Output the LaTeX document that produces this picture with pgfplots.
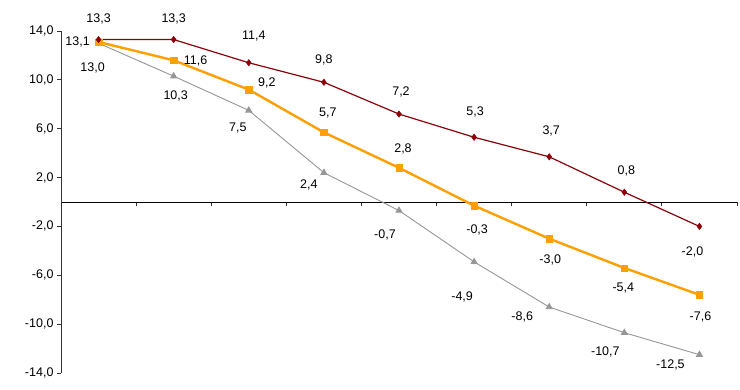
\documentclass[border=0pt]{standalone}
\usepackage{fontspec}
\setmainfont{Liberation Sans}
\usepackage{pgfplots}
\usepackage{pgfplotstable}
\pgfplotsset{compat=1.18}
\definecolor{cred}{RGB}{140,0,10}
\definecolor{corange}{RGB}{255,160,0}
\definecolor{cgray}{RGB}{150,150,150}

\pgfplotstableread{
x y lab dx dy
0 13.3 13,3 0 21
1 13.3 13,3 0 21
2 11.4 11,4 5 27
3 9.8 9,8 0 22
4 7.2 7,2 2 22
5 5.3 5,3 1 25
6 3.7 3,7 2 26
7 0.8 0,8 2 21
8 -2.0 -2,0 -7 -26
}\redtab
\pgfplotstableread{
x y lab dx dy
0 13.1 13,1 -21 0
1 11.6 11,6 22 -1
2 9.2 9,2 18 7
3 5.7 5,7 4 19
4 2.8 2,8 4 19
5 -0.3 -0,3 3 -24
6 -3.0 -3,0 1 -21
7 -5.4 -5,4 -1 -20
8 -7.6 -7,6 1 -22
}\orangetab
\pgfplotstableread{
x y lab dx dy
0 13.0 13,0 -6 -25
1 10.3 10,3 2 -20
2 7.5 7,5 -11 -18
3 2.4 2,4 -15 -12
4 -0.7 -0,7 -14 -24
5 -4.9 -4,9 -12 -35
6 -8.6 -8,6 -27 -10
7 -10.7 -10,7 -19 -19
8 -12.5 -12,5 -29 -10
}\graytab

\begin{document}
\begin{tikzpicture}
\begin{axis}[
  name=ax,
  scale only axis,
  width=676pt, height=342pt,
  xmin=-0.5, xmax=8.5,
  ymin=-14, ymax=14,
  axis x line=middle,
  axis y line=left,
  x axis line style={-, black, line width=0.9pt},
  y axis line style={-, black!80, line width=0.9pt},
  xtick={-0.5,0.5,...,8.5},
  xticklabels={},
  ytick={-14,-10,-6,-2,2,6,10,14},
  tick align=outside,
  major tick length=4pt,
  tick style={black!80, line width=0.8pt},
  yticklabel style={font=\fontsize{12.5}{14}\selectfont, text=black},
  /pgf/number format/.cd, fixed, fixed zerofill, precision=1, use comma, assume math mode=true,
  /pgfplots/.cd,
  clip=false,
  point meta=explicit symbolic,
  nodes near coords,
  visualization depends on={\thisrow{dx} \as \dx},
  visualization depends on={\thisrow{dy} \as \dy},
  nodes near coords style={anchor=center, xshift=\dx pt, yshift=\dy pt, font=\fontsize{12.5}{14}\selectfont, text=black, inner sep=0pt},
]
\addplot[color=cgray, line width=0.9pt, mark=triangle*, mark size=3.4pt, mark options={fill=cgray, draw=cgray}]
  table[x=x, y=y, meta=lab] {\graytab};
\addplot[color=corange, line width=2.4pt, mark=square*, mark size=3.2pt, mark options={fill=corange, draw=corange, line width=0.5pt}]
  table[x=x, y=y, meta=lab] {\orangetab};
\addplot[color=cred, line width=1.2pt, mark=diamond*, mark size=3.2pt, mark options={fill=cred, draw=cred, line width=0.5pt}]
  table[x=x, y=y, meta=lab] {\redtab};
\end{axis}
\pgfresetboundingbox
\path[use as bounding box] ([xshift=-61pt,yshift=-16pt]ax.south west) rectangle ([xshift=3pt,yshift=31pt]ax.north east);
\end{tikzpicture}
\end{document}
